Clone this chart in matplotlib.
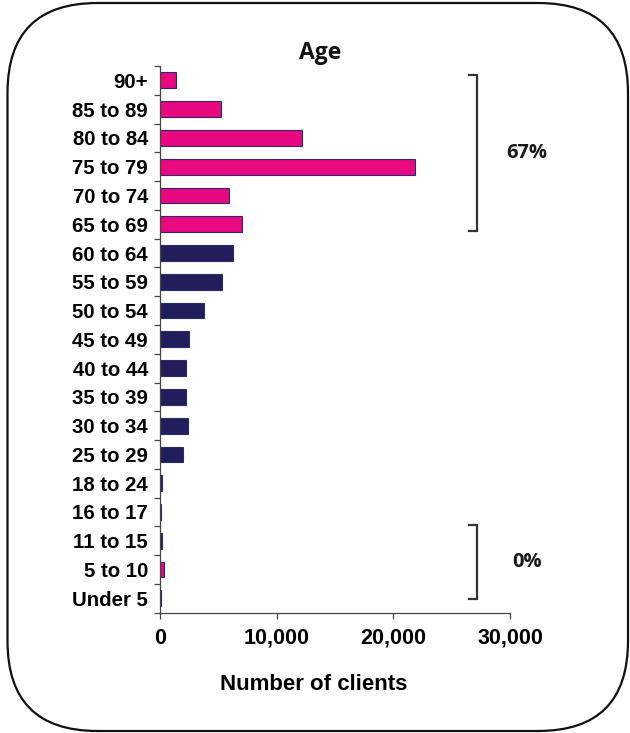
import matplotlib
matplotlib.use("Agg")
import matplotlib.pyplot as plt
from matplotlib.patches import FancyBboxPatch
from matplotlib.ticker import FuncFormatter

# 데이터 (아래에서 위 순서)
ages = ["Under 5", "5 to 10", "11 to 15", "16 to 17", "18 to 24", "25 to 29",
        "30 to 34", "35 to 39", "40 to 44", "45 to 49", "50 to 54", "55 to 59",
        "60 to 64", "65 to 69", "70 to 74", "75 to 79", "80 to 84", "85 to 89", "90+"]
clients = [60, 300, 200, 80, 200, 1970, 2430, 2260, 2260, 2490, 3800, 5340,
           6260, 7030, 5910, 21880, 12170, 5230, 1340]
groups = ["navy", "pink", "navy", "navy", "navy", "navy", "navy", "navy", "navy",
          "navy", "navy", "navy", "navy", "pink", "pink", "pink", "pink", "pink", "pink"]
x_ticks = [0, 10000, 20000, 30000]

# 괄호 구간 (카테고리 위치) 과 퍼센트
bracket_spans = [(12.76, 18.18), (-0.03, 2.54)]
bracket_labels = ["67%", "0%"]

palette = {"pink": "#E8087F", "navy": "#221E5C"}
colors = [palette[g] for g in groups]

fig = plt.figure(figsize=(6.3, 7.33), dpi=100)
ax = fig.add_axes([0.254, 0.1641, 0.5556, 0.7459])

ypos = list(range(len(ages)))
ax.barh(ypos, clients, height=0.55, color=colors, edgecolor="#2B2B6B", linewidth=0.8)

ax.set_xlim(0, 30000)
ax.set_ylim(-0.5, len(ages) - 0.5)
ax.set_xticks(x_ticks)
ax.xaxis.set_major_formatter(FuncFormatter(lambda v, p: f"{int(v):,}"))
ax.set_yticks(ypos)
ax.set_yticklabels(ages)
ax.set_yticks([i - 0.5 for i in range(len(ages) + 1)], minor=True)

ax.tick_params(axis="y", which="major", length=0, pad=8.6)
ax.tick_params(axis="y", which="minor", length=4, width=0.9, color="#444444", direction="out")
ax.tick_params(axis="x", length=4, width=0.9, color="#444444", direction="out", pad=7)

for lab in ax.get_yticklabels():
    lab.set_fontfamily("Liberation Sans")
    lab.set_fontweight("bold")
    lab.set_fontsize(14.7)
for lab in ax.get_xticklabels():
    lab.set_fontfamily("Liberation Sans")
    lab.set_fontweight("bold")
    lab.set_fontsize(15.5)

for side in ["top", "right"]:
    ax.spines[side].set_visible(False)
for side in ["left", "bottom"]:
    ax.spines[side].set_color("#444444")
    ax.spines[side].set_linewidth(0.9)

ax.set_xlabel("Number of clients", fontfamily="Liberation Sans", fontweight="bold", fontsize=16)
ax.xaxis.set_label_coords(0.44, -0.112)

# 괄호 그리기
bx, bx_left = 27170, 26480
for (lo, hi), txt in zip(bracket_spans, bracket_labels):
    ax.plot([bx_left, bx, bx, bx_left], [hi, hi, lo, lo], color="#333333",
            linewidth=1.6, clip_on=False, solid_joinstyle="miter")
    ax.text(31450, (lo + hi) / 2, txt, ha="center", va="center", fontsize=14.5,
            fontfamily="Open Sans", fontweight="bold", color="#1a1a1a", clip_on=False)

# 제목
fig.text(320 / 630, 1 - 53 / 733, "Age", ha="center", va="center", fontsize=16.5,
         fontfamily="Open Sans", fontweight="bold", color="#111111")

# 둥근 테두리
box = FancyBboxPatch((0.075, 0.02), 6.205, 7.28, boxstyle="round,pad=0,rounding_size=0.9",
                     transform=fig.dpi_scale_trans, fill=False, edgecolor="#111111",
                     linewidth=1.6)
fig.patches.append(box)

fig.savefig("out.png", dpi=100)
